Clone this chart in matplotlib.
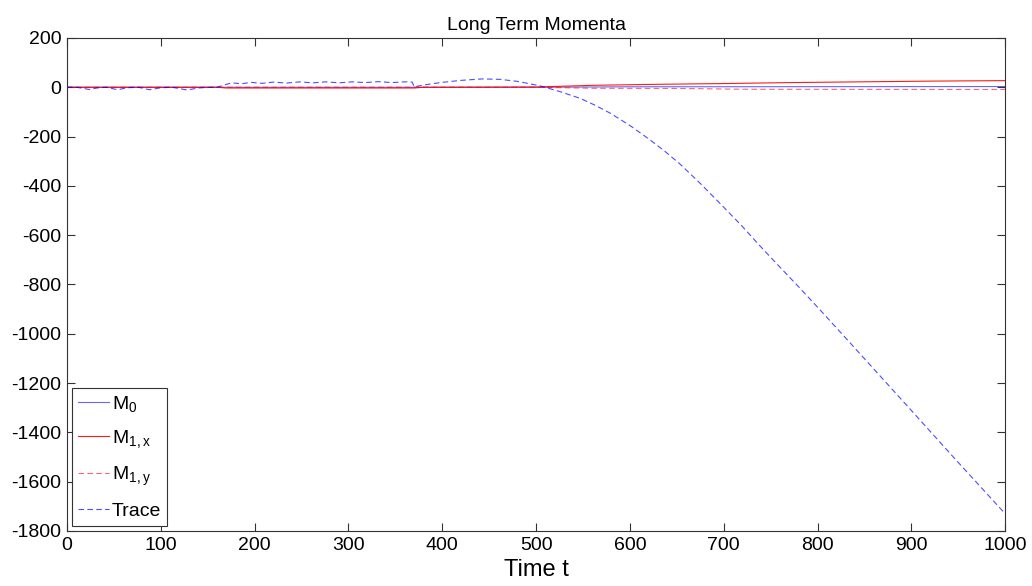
import numpy as np
import matplotlib.pyplot as plt

plt.rcParams['font.family'] = ['Liberation Sans', 'DejaVu Sans']
plt.rcParams['mathtext.default'] = 'regular'
plt.rcParams['axes.unicode_minus'] = False

# Trace
t_trace = [0, 10, 18, 24, 32, 42, 54, 64, 76, 88, 100, 112, 128, 140, 152, 160,
           168, 176, 186, 196, 208, 220, 234, 248, 262, 276, 290, 304, 318,
           332, 346, 360, 368, 370,
           385, 400, 420, 443, 462, 480, 504, 525, 547, 563, 579, 600, 621,
           637, 653, 675, 696, 718, 739, 760, 779, 800, 824, 850, 875, 900,
           917, 950, 975, 1000]
trace = [0, 0, -5, -9, -3, 0, -10, -2, 0, -10, -2, 0, -11, -3, 0, 0,
         10, 18, 14, 20, 16, 21, 17, 22, 18, 22, 18, 22, 19,
         23, 19, 22, 21, 2,
         12, 20, 28, 34, 32, 24, 6, -17, -45, -73, -105, -155, -212,
         -259, -310, -390, -471, -557, -645, -730, -806, -892, -992, -1101,
         -1206, -1311, -1383, -1522, -1626, -1730]

# M0
t_m0 = [0, 500, 600, 1000]
m0 = [0, 0, 2, 3]

# M1,x
t_m1x = [0, 160, 170, 370, 380, 500, 561, 629, 698, 771, 845, 922, 1000]
m1x = [0, 0, -3, -3, 0, 1, 8, 12, 15, 19, 22, 25, 27]

# M1,y
t_m1y = [0, 500, 560, 660, 720, 1000]
m1y = [0, 0, -4, -5, -8, -9]

fig = plt.figure(figsize=(10.32, 5.86), dpi=100)
ax = fig.add_axes([0.0649, 0.0939, 0.9091, 0.8413])

ax.plot(t_m0, m0, color='#0000ff', lw=0.8, alpha=0.6, label='$M_0$')
ax.plot(t_m1x, m1x, color='#ff0000', lw=0.8, alpha=0.9, label='$M_{1,x}$')
ax.plot(t_m1y, m1y, color='#ff0000', lw=0.8, ls=(0, (5, 3)), alpha=0.6,
        label='$M_{1,y}$')
ax.plot(t_trace, trace, color='#0000ff', lw=0.8, ls=(0, (5, 3)), alpha=0.7,
        label='Trace')

ax.set_xlim(0, 1000)
ax.set_ylim(-1800, 200)
ax.set_xticks(np.arange(0, 1001, 100))
ax.set_yticks(np.arange(-1800, 201, 200))
ax.tick_params(direction='in', top=True, right=True, labelsize=14, length=6,
               color='#333333', pad=4)
for s in ax.spines.values():
    s.set_color('#333333')
    s.set_linewidth(0.8)

ax.set_title('Long Term Momenta', fontsize=14, pad=6)
ax.set_xlabel('Time t', fontsize=17, labelpad=4)

leg = ax.legend(loc='lower left', fontsize=14, fancybox=False, framealpha=1,
                edgecolor='#333333', handlelength=1.6, handletextpad=0.15,
                labelspacing=0.75, borderpad=0.3, borderaxespad=0.25)
leg.get_frame().set_linewidth(0.8)

fig.savefig('out.png', dpi=100)
